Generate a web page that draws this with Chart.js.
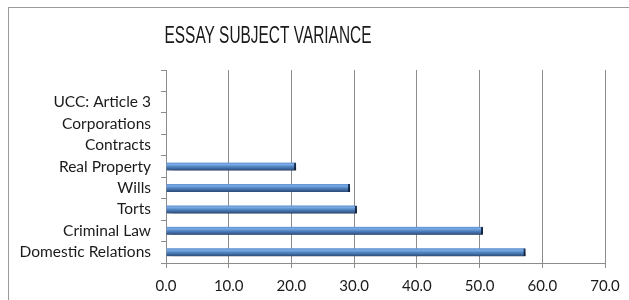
<!DOCTYPE html>
<html>
<head>
<meta charset="utf-8">
<style>
  html, body { margin: 0; padding: 0; background: #fff; }
  #wrap { width: 629px; height: 300px; position: relative; }
</style>
<script src="https://cdn.jsdelivr.net/npm/chart.js@4.4.1/dist/chart.umd.min.js"></script>
</head>
<body>
<div id="wrap"><canvas id="chartEssay"></canvas></div>
<script>
(function () {
    'use strict';

    const TITLE = 'ESSAY SUBJECT VARIANCE';
    const subjects = ['', 'UCC: Article 3', 'Corporations', 'Contracts', 'Real Property',
                      'Wills', 'Torts', 'Criminal Law', 'Domestic Relations'];
    const variance = [null, 0, 0, 0, 20.7, 29.3, 30.4, 50.5, 57.3];
    const xTicks = [0, 10, 20, 30, 40, 50, 60, 70];

    const GRID = '#8c8c8c';
    const TEXT = '#1a1a1a';
    const FONT = 'Lato, "Open Sans", sans-serif';

    function barFill(ctx) {
        if (!ctx.raw) return 'rgba(0, 0, 0, 0)';
        const chart = ctx.chart;
        const y = chart.scales && chart.scales.y;
        if (!y || ctx.dataIndex === undefined || !chart.chartArea) return '#4F81BD';
        const mid = y.getPixelForValue(ctx.dataIndex);
        const g = chart.ctx.createLinearGradient(0, mid - 4, 0, mid + 4);
        g.addColorStop(0, '#5d8fd0');
        g.addColorStop(0.25, '#7aaae6');
        g.addColorStop(0.55, '#4f81bd');
        g.addColorStop(1, '#2a4a78');
        return g;
    }

    // outer frame plus a narrow title centred where the original sits
    const frameAndTitle = {
        id: 'frameAndTitle',
        beforeDraw(chart) {
            const c = chart.ctx;
            c.save();
            c.strokeStyle = '#9a9a9a';
            c.lineWidth = 1;
            c.strokeRect(8.5, 7.5, 800, 400);
            c.fillStyle = TEXT;
            c.font = '23px "Liberation Sans", Arial, sans-serif';
            c.textBaseline = 'alphabetic';
            const w = c.measureText(TITLE).width;
            const sx = 207 / w;
            c.translate(268 - 207 / 2, 43);
            c.scale(sx, 1);
            c.textAlign = 'left';
            c.fillText(TITLE, 0, 0);
            c.restore();
        }
    };

    const barShadow = {
        id: 'barShadow',
        beforeDatasetsDraw(chart) {
            const c = chart.ctx;
            c.save();
            c.shadowColor = 'rgba(0, 0, 0, 0.5)';
            c.shadowOffsetX = 4;
            c.shadowOffsetY = 4;
            c.shadowBlur = 5;
        },
        afterDatasetsDraw(chart) {
            chart.ctx.restore();
        }
    };

    new Chart(document.getElementById('chartEssay'), {
        type: 'bar',
        data: {
            labels: subjects,
            datasets: [{
                label: 'Variance',
                data: variance,
                backgroundColor: barFill,
                borderColor: '#1c355a',
                borderWidth: ctx => ctx.raw ? { right: 2, left: 0, top: 0, bottom: 0 } : 0,
                borderSkipped: false,
                barThickness: 8
            }]
        },
        options: {
            indexAxis: 'y',
            responsive: true,
            maintainAspectRatio: false,
            animation: false,
            layout: { padding: { top: 70, right: 24, left: 0, bottom: 0 } },
            plugins: {
                legend: { display: false },
                tooltip: { enabled: false }
            },
            scales: {
                x: {
                    min: 0,
                    max: 70,
                    afterBuildTicks(scale) { scale.ticks = xTicks.map(v => ({ value: v })); },
                    afterFit(scale) { scale.height = 37; },
                    grid: { color: GRID, tickLength: 5, lineWidth: 1 },
                    border: { color: GRID },
                    ticks: {
                        color: TEXT,
                        padding: 9,
                        font: { family: FONT, size: 15 },
                        callback: v => Number(v).toFixed(1)
                    }
                },
                y: {
                    afterFit(scale) { scale.width = 166; },
                    grid: { drawOnChartArea: false, offset: true, color: GRID, tickLength: 5 },
                    border: { color: GRID },
                    ticks: {
                        color: TEXT,
                        padding: 10,
                        autoSkip: false,
                        font: { family: FONT, size: 15.5 }
                    }
                }
            }
        },
        plugins: [frameAndTitle, barShadow]
    });
})();
</script>
</body>
</html>
